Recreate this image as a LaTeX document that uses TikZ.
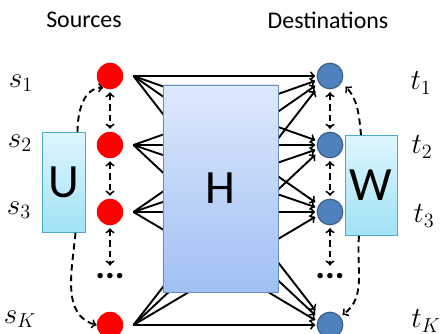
\documentclass[tikz,border=0pt]{standalone}
\usepackage{fontspec}
\setmainfont{Carlito}
\usepackage{tikz}
\usetikzlibrary{arrows}
\definecolor{srcred}{RGB}{255,0,0}
\definecolor{dstblue}{RGB}{79,129,189}
\definecolor{dstedge}{RGB}{56,93,138}
\definecolor{mixedge}{RGB}{75,172,198}
\definecolor{mixtop}{RGB}{222,246,253}
\definecolor{mixbot}{RGB}{160,226,245}
\definecolor{chanedge}{RGB}{108,142,191}
\definecolor{chantop}{RGB}{222,233,252}
\definecolor{chanbot}{RGB}{160,192,244}
\tikzstyle{source} = [circle, minimum size=0.66cm, inner sep=0pt, fill=srcred]
\tikzstyle{dest} = [circle, minimum size=0.64cm, inner sep=0pt, fill=dstblue, draw=dstedge, line width=0.8pt]
\tikzstyle{mixbox} = [rectangle, minimum width=1.075cm, minimum height=2.5cm, draw=mixedge, top color=mixtop, bottom color=mixbot, font=\fontsize{34}{36}\selectfont]
\tikzstyle{chanbox} = [rectangle, minimum width=2.875cm, minimum height=5.175cm, draw=chanedge, top color=chantop, bottom color=chanbot, font=\fontsize{34}{36}\selectfont]
\tikzstyle{heading} = [font=\fontsize{17}{20}\selectfont]
\tikzstyle{idx} = [font=\fontsize{20}{23}\selectfont]
\tikzstyle{etc} = [font=\fontsize{26}{28}\selectfont\bfseries]
\tikzstyle{arrow} = [line width=1.35pt,->,>=to]
\tikzstyle{dasharrow} = [line width=1.35pt,dash pattern=on 4.5pt off 3pt,->,>=to]
\tikzstyle{dashboth} = [line width=1.35pt,dash pattern=on 4.5pt off 3pt,<->,>=to,shorten >=2pt,shorten <=2pt]

\begin{document}
\begin{tikzpicture}[x=0.025cm,y=-0.025cm]
\useasboundingbox (0,0) rectangle (442,334);
\node (src) [heading] at (84,20) {Sources};
\node (dst) [heading] at (328,20) {Destinations};
% sources and destinations
\node (s1) [source] at (110,76) {};
\node (s2) [source] at (110,145) {};
\node (s3) [source] at (110,212) {};
\node (sdots) [etc] at (110,276) {...};
\node (sK) [source] at (110,325) {};
\node (t1) [dest] at (330,76) {};
\node (t2) [dest] at (330,145) {};
\node (t3) [dest] at (330,212) {};
\node (tdots) [etc] at (330,276) {...};
\node (tK) [dest] at (330,325) {};
\node (ls1) [idx] at (21,83) {$s_1$};
\node (ls2) [idx] at (20,143) {$s_2$};
\node (ls3) [idx] at (19,210) {$s_3$};
\node (lsK) [idx] at (20,319) {$s_K$};
\node (lt1) [idx] at (421,83) {$t_1$};
\node (lt2) [idx] at (422,147) {$t_2$};
\node (lt3) [idx] at (424,216) {$t_3$};
\node (ltK) [idx] at (426,321) {$t_K$};
% every source to every destination
\foreach \a/\i in {1/1,2/2,3/3,K/4}
  \foreach \b/\j in {1/1,2/2,3/3,K/4}
    \draw [arrow] ([xshift=0.25cm]s\a.east) -- ([xshift=-1pt,yshift={(\j-\i)*3.5pt}]t\b.west);
\node (H) [chanbox] at (220.5,188.5) {H};
\node (U) [mixbox] at (63.5,182.5) {U};
\node (W) [mixbox] at (371,185.5) {W};
% cooperation links
\draw [dashboth] (s1) -- (s2);
\draw [dashboth] (s2) -- (s3);
\draw [dashboth] (s3) -- (sdots);
\draw [dashboth] (t1) -- (t2);
\draw [dashboth] (t2) -- (t3);
\draw [dashboth] (t3) -- (tdots);
\draw [dasharrow] ([xshift=0.35cm]U.north) to[out=90,in=180] (s1.240);
\draw [dasharrow] ([xshift=0.3cm]U.south) to[out=-95,in=165] (sK.west);
\draw [dasharrow,shorten >=4pt] ([xshift=-0.25cm]W.north) to[out=95,in=-45] (t1.-30);
\draw [dasharrow,shorten >=2pt] ([xshift=-0.3cm]W.south) to[out=-95,in=35] (tK.40);
\end{tikzpicture}
\end{document}
